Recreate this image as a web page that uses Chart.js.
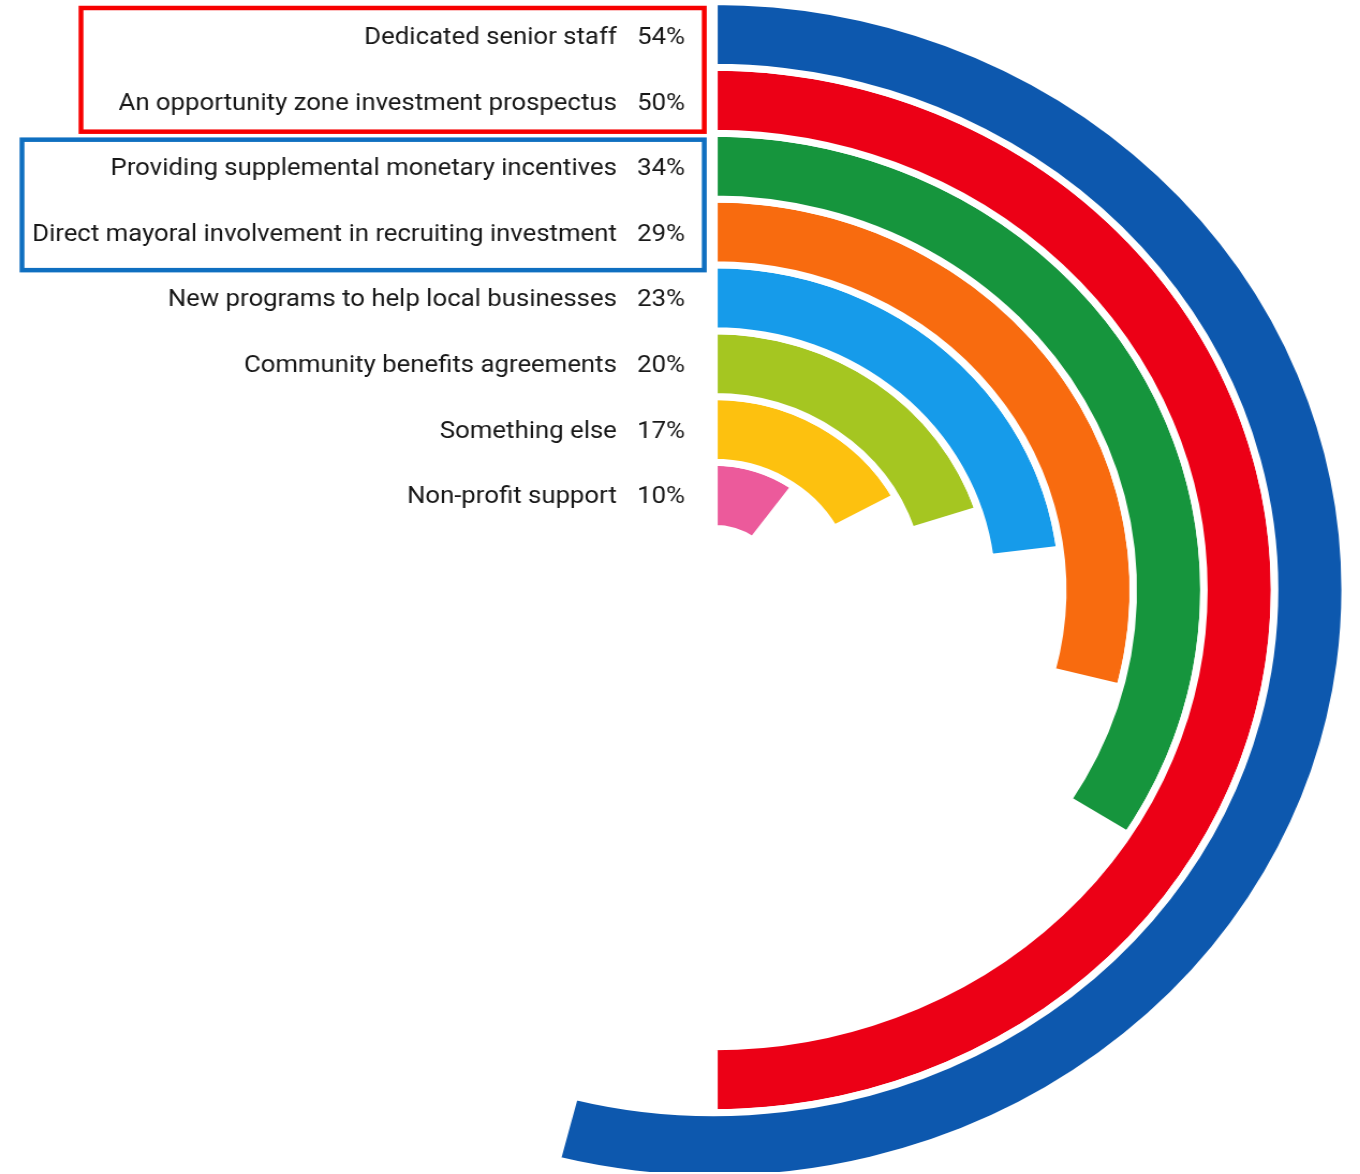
<!DOCTYPE html>
<html>
<head>
<meta charset="utf-8">
<script src="https://cdn.jsdelivr.net/npm/chart.js@4"></script>
<style>
  html, body { margin: 0; padding: 0; background: #fff; overflow: hidden; }
  /* the figure is drawn a little wider than tall */
  .wrap { width: 1268px; height: 1174px; transform: scaleX(1.0726); transform-origin: 0 0; }
  #radial { display: block; margin-top: -2px; }
</style>
</head>
<body>
<div class="wrap">
  <canvas id="radial" width="1268" height="1190"></canvas>
</div>
<script>
const labels = [
  'Dedicated senior staff',
  'An opportunity zone investment prospectus',
  'Providing supplemental monetary incentives',
  'Direct mayoral involvement in recruiting investment',
  'New programs to help local businesses',
  'Community benefits agreements',
  'Something else',
  'Non-profit support'
];
const values = [54, 50, 34, 29, 23, 20, 17, 10];
const colors = ['#0d58ae', '#ec0016', '#16953d', '#f86b0f', '#169bea', '#a5c621', '#fdc10f', '#ec5a9b'];
const maxValue = 100;

// outlined groups: [first row, last row, colour, left edge]
const groups = [
  [0, 1, '#f70000', 75.5],
  [2, 3, '#0f6fc0', 20.5]
];

// each answer gets its own ring, the rest of the ring is left empty
const datasets = values.map((v, i) => ({
  label: labels[i],
  data: [v, maxValue - v],
  backgroundColor: [colors[i], 'rgba(0,0,0,0)'],
  borderColor: ['#ffffff', 'rgba(0,0,0,0)'],
  borderWidth: 7
}));

const ringLabels = {
  id: 'ringLabels',
  afterDraw(chart) {
    const ctx = chart.ctx;
    ctx.save();
    ctx.font = '24px Roboto';
    ctx.fillStyle = '#181818';
    ctx.textBaseline = 'middle';
    ctx.textAlign = 'right';
    const arcs = values.map((v, i) => chart.getDatasetMeta(i).data[0]);
    arcs.forEach((arc, i) => {
      const y = arc.y - (arc.innerRadius + arc.outerRadius) / 2 + 3.5 - i * 0.2;
      ctx.fillText(labels[i], arc.x - 90.5, y);
      ctx.fillText(values[i] + '%', arc.x - 27, y);
    });

    groups.forEach(([a, b, col, left]) => {
      const top = arcs[a].y - arcs[a].outerRadius + 6.5;
      const bottom = arcs[b].y - arcs[b].innerRadius + (a === 0 ? -1.5 : 5.3);
      ctx.strokeStyle = col;
      ctx.lineWidth = 4.5;
      ctx.strokeRect(left, top, arcs[a].x - 9 - left, bottom - top);
    });
    ctx.restore();
  }
};

new Chart(document.getElementById('radial'), {
  type: 'doughnut',
  data: { labels: ['value', 'rest'], datasets },
  options: {
    responsive: false,
    animation: false,
    events: [],
    rotation: 0,
    circumference: 360,
    cutout: '10.5%',
    layout: { padding: { left: 73.6, top: 0, right: 10.4, bottom: 6 } },
    plugins: {
      legend: { display: false },
      tooltip: { enabled: false }
    }
  },
  plugins: [ringLabels]
});
</script>
</body>
</html>
